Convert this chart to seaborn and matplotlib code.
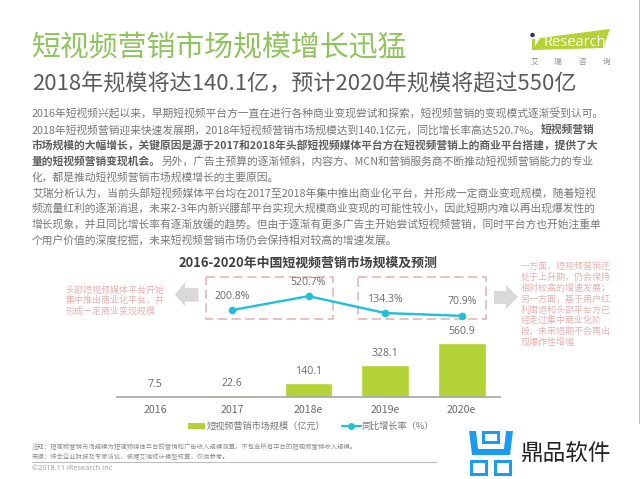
import numpy as np
import pandas as pd
import matplotlib
matplotlib.use('Agg')
import matplotlib.pyplot as plt
from matplotlib.lines import Line2D
from matplotlib.patches import Polygon, Rectangle
import seaborn as sns

# chart values
years = ['2016', '2017', '2018e', '2019e', '2020e']
market_size = [7.5, 22.6, 140.1, 328.1, 560.9]
growth_rate = [np.nan, 200.8, 520.7, 134.3, 70.9]

# texts
title = '短视频营销市场规模增长迅猛'
subtitle = '2018年规模将达140.1亿，预计2020年规模将超过550亿'
chart_title = '2016-2020年中国短视频营销市场规模及预测'
legend_bar = '短视频营销市场规模（亿元）'
legend_line = '同比增长率（%）'
# each body line is a list of (text, bold)
body_lines = [
    [('2016年短视频兴起以来，早期短视频平台方一直在进行各种商业变现尝试和探索，短视频营销的变现模式逐渐受到认可。', False)],
    [('2018年短视频营销迎来快速发展期，2018年短视频营销市场规模达到140.1亿元，同比增长率高达520.7%。', False), ('短视频营销', True)],
    [('市场规模的大幅增长，关键原因是源于2017和2018年头部短视频媒体平台方在短视频营销上的商业平台搭建，提供了大', True)],
    [('量的短视频营销变现机会。', True), ('另外，广告主预算的逐渐倾斜，内容方、MCN和营销服务商不断推动短视频营销能力的专业', False)],
    [('化，都是推动短视频营销市场规模增长的主要原因。', False)],
    [('艾瑞分析认为，当前头部短视频媒体平台均在2017至2018年集中推出商业化平台，并形成一定商业变现规模，随着短视', False)],
    [('频流量红利的逐渐消退，未来2-3年内新兴腰部平台实现大规模商业变现的可能性较小，因此短期内难以再出现爆发性的', False)],
    [('增长现象，并且同比增长率有逐渐放缓的趋势。但由于逐渐有更多广告主开始尝试短视频营销，同时平台方也开始注重单', False)],
    [('个用户价值的深度挖掘，未来短视频营销市场仍会保持相对较高的增速发展。', False)],
]
left_note = ['头部短视频媒体平台开始', '集中推出商业化平台，并', '形成一定商业变现规模']
right_note = ['一方面，短视频营销还', '处于上升期，仍会保持', '相对较高的增速发展；', '另一方面，基于用户红', '利周退和头部平台方已', '经走过集中商业化阶', '段，未来短期不会再出', '现爆炸性增幅']
footnotes = ['注释：短视频营销市场规模为短视频媒体平台的营销和广告收入规模测算，不包含所有平台的短视频营销收入规模。',
             '来源：综合企业财报及专家访谈，根据艾瑞统计模型核算，仅供参考。']
copyright_text = '©2018.11 iResearch Inc'
consult = ['艾', '瑞', '咨', '询']

GREEN = '#b2d235'
CYAN = '#1fc0d8'
PINK = '#e6b2b2'
W, H = 640, 479

sns.set_theme(style='white')
plt.rcParams['font.family'] = ['Noto Sans CJK SC', 'DejaVu Sans']
plt.rcParams['axes.unicode_minus'] = False

df = pd.DataFrame({'year': years, 'size': market_size, 'rate': growth_rate, 'pos': range(len(years))})

fig = plt.figure(figsize=(6.4, 4.79), dpi=100, facecolor='white')

# page layer in pixel coordinates
page = fig.add_axes([0, 0, 1, 1])
page.set_xlim(0, W)
page.set_ylim(H, 0)
page.axis('off')


def to_fig(x0, y0, x1, y1):
    return [x0 / W, 1 - y1 / H, (x1 - x0) / W, (y1 - y0) / H]


page.text(32, 48, title, fontsize=20.8, color='#8fc45c', va='center')
page.text(32, 84.5, subtitle, fontsize=15.9, color='#5a5a5a', va='center')

# iResearch logo
page.add_patch(Polygon([[540, 38], [610, 29], [603, 48], [533, 50]], color=GREEN, lw=0))
page.add_patch(Rectangle((531.5, 39), 3.5, 11, color=GREEN, lw=0))
page.text(544, 42.5, 'Research', fontsize=10.5, color='white', va='center', family='Open Sans')
page.add_patch(plt.Circle((532.5, 35), 1.5, color='#24336b'))
for cx, ch in zip([534, 557, 582, 607], consult):
    page.text(cx, 62, ch, fontsize=5.5, color='#8a8a8a', ha='center', va='center')

# body text, bold runs placed after the previous run
renderer = fig.canvas.get_renderer()
for i, line in enumerate(body_lines):
    x = 32
    y = 114.3 + i * 15.72
    for text, bold in line:
        t = page.text(x, y, text, fontsize=7.75, va='center', color='#5c5c5c' if bold else '#767676',
                      fontweight='bold' if bold else 'normal')
        x = page.transData.inverted().transform(t.get_window_extent(renderer))[1, 0]

page.text(308.5, 263, chart_title, fontsize=9.3, fontweight='bold', color='#404040', ha='center', va='center')

# dashed boxes and grey arrows
for x0, x1 in [(206, 333), (358, 485.5)]:
    page.add_patch(Rectangle((x0, 276.5), x1 - x0, 42.5, fill=False, ec='#dfb0ae', lw=1.1, ls=(0, (6, 3))))
page.add_patch(Polygon([[198.5, 288], [185, 288], [185, 282], [175, 294.5], [185, 306.5], [185, 301.5], [198.5, 301.5]],
                       color='#d9d9d9', lw=0))
page.add_patch(Polygon([[494, 291], [506, 291], [506, 285], [518, 297], [506, 309], [506, 304], [494, 304]],
                       color='#d9d9d9', lw=0))

for i, s in enumerate(left_note):
    page.text(66, 290 + i * 10.4, s, fontsize=6.5, color=PINK, va='center')
for i, s in enumerate(right_note):
    page.text(521, 266.7 + i * 10.8, s, fontsize=6.5, color=PINK, va='center')

# bars
ax = fig.add_axes(to_fig(117, 270, 500, 397))
ax.patch.set_alpha(0)
sns.barplot(data=df, x='year', y='size', color=GREEN, saturation=1, width=0.625, ax=ax)
ax.set_xlim(-0.5, 4.5)
ax.set_ylim(0, 1316)
ax.bar_label(ax.containers[0], fmt='%.1f', padding=4.5, fontsize=7.6, color='#6a6a6a', family='Open Sans')
ax.set_xlabel('')
ax.set_ylabel('')
ax.set_yticks([])
ax.tick_params(axis='x', length=0, pad=6, labelsize=7.6, labelcolor='#6a6a6a')
sns.despine(ax=ax, left=True)
ax.spines['bottom'].set_color('#a6a6a6')
ax.spines['bottom'].set_linewidth(1.2)

# growth line on its own scale
ax2 = ax.twinx()
sns.lineplot(data=df, x='pos', y='rate', color=CYAN, linewidth=1.7, marker='o', markersize=5.5,
             markeredgewidth=0, ax=ax2, legend=False)
ax2.set_xlim(-0.5, 4.5)
ax2.set_ylim(-1782, 1117)
ax2.axis('off')
for pos, rate in zip(df['pos'], growth_rate):
    if not np.isnan(rate):
        ax2.annotate(f'{rate:.1f}%', (pos, rate), xytext=(0, 10), textcoords='offset points',
                     ha='center', va='center', fontsize=7.6, color='#6a6a6a', family='Open Sans')

# legend
page.add_patch(Rectangle((188, 423), 17, 6, color=GREEN, lw=0))
page.text(206.5, 426, legend_bar, fontsize=6.6, color='#767676', va='center')
page.add_line(Line2D([342, 361], [426, 426], color=CYAN, lw=1.6))
page.plot([351], [426], 'o', color=CYAN, ms=5, mew=0)
page.text(361, 426, legend_line, fontsize=6.6, color='#767676', va='center')

# footer
for y, s in zip([447, 456], footnotes):
    page.text(32, y, s, fontsize=4.55, color='#8c8c8c', va='center')
page.plot([32, 436], [462, 462], color='#bdbdbd', lw=0.8)
page.text(32, 469, copyright_text, fontsize=5.2, color='#9a9a9a', va='center', family='Open Sans')

# page edge and watermark
page.plot([639, 639], [0, 423], color='#bdbdbd', lw=0.8)
page.add_patch(Rectangle((463, 424), 177, 55, color='white', lw=0, zorder=3))
BLUE = '#1c9cf0'
page.add_patch(Polygon([[469, 431], [476, 431], [478, 449], [504, 449], [506, 431], [513, 431], [510, 455], [472, 455]],
                       color=BLUE, lw=0, zorder=4))
for rect in [(482, 431, 18, 3.2), (482, 441, 18, 3.2), (482, 431, 3.2, 13), (497, 431, 3.2, 13),
             (470, 460, 3.2, 16), (485, 460, 3.2, 16), (470, 460, 18, 3.2), (470, 473, 18, 3.2),
             (494, 460, 3.2, 16), (509, 460, 3.2, 16), (494, 460, 18, 3.2), (494, 473, 18, 3.2)]:
    page.add_patch(Rectangle(rect[:2], rect[2], rect[3], color=BLUE, lw=0, zorder=4))
page.text(521, 453, '鼎品软件', fontsize=16.3, color='#222222', va='center', zorder=4)

fig.savefig('out.png', dpi=100)
